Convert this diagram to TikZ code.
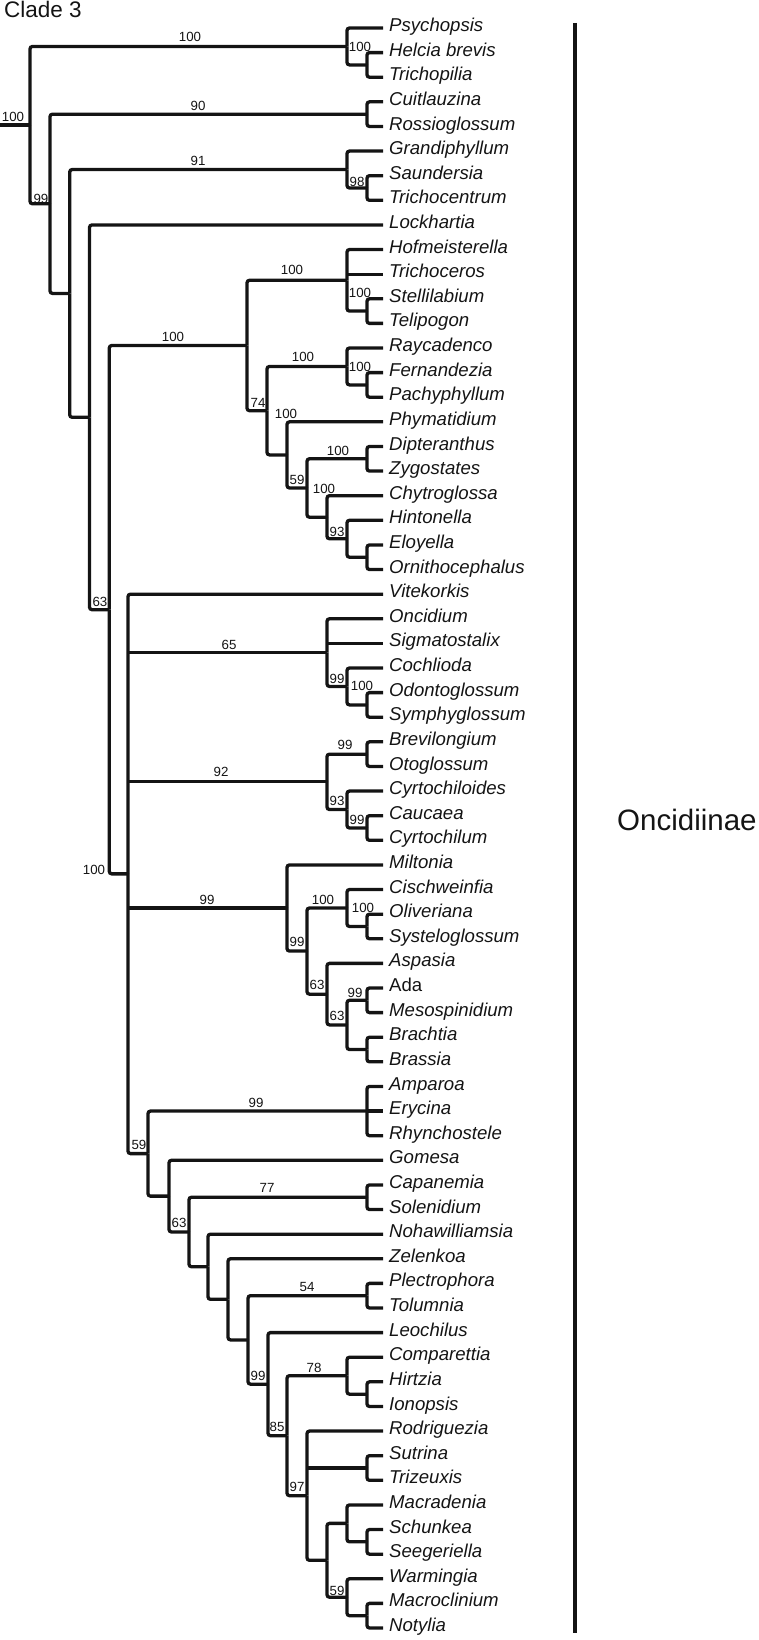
\documentclass[tikz,border=0pt]{standalone}
\usepackage{fontspec}
\setmainfont{Liberation Sans}
\usetikzlibrary{calc}
\definecolor{ink}{HTML}{141414}
\newcommand{\rowy}[1]{3.385+24.615*#1}
\tikzset{
  every node/.style={text=ink},
  branch/.style={line width=3.3pt, rounded corners=2.5pt, draw=ink},
  taxon/.style={anchor=west, inner xsep=6pt, inner ysep=0pt, text height=0.72em, text depth=0pt, font=\fontsize{18.6}{20}\selectfont\itshape},
  support/.style={inner sep=0pt, font=\fontsize{13.3}{14}\selectfont},
  cladelabel/.style={anchor=west, inner sep=0pt},
  bracket/.style={line width=4pt, draw=ink},
}
\begin{document}
\begin{tikzpicture}[x=1pt,y=-1pt]
\useasboundingbox (0,0) rectangle (758,1640);
% taxa
\foreach \tid/\tname [count=\i] in {psy/Psychopsis, hel/Helcia brevis, tri/Trichopilia, cui/Cuitlauzina, ros/Rossioglossum, gra/Grandiphyllum, sau/Saundersia, trc/Trichocentrum, loc/Lockhartia, hof/Hofmeisterella, trs/Trichoceros, ste/Stellilabium, tel/Telipogon, ray/Raycadenco, fer/Fernandezia, pac/Pachyphyllum, phy/Phymatidium, dip/Dipteranthus, zyg/Zygostates, chy/Chytroglossa, hin/Hintonella, elo/Eloyella, orn/Ornithocephalus, vit/Vitekorkis, onc/Oncidium, sig/Sigmatostalix, coc/Cochlioda, odo/Odontoglossum, sym/Symphyglossum, bre/Brevilongium, oto/Otoglossum, cyd/Cyrtochiloides, cau/Caucaea, cyr/Cyrtochilum, mil/Miltonia, cis/Cischweinfia, oli/Oliveriana, sys/Systeloglossum, asp/Aspasia, ada/\textup{Ada}, mes/Mesospinidium, brc/Brachtia, bra/Brassia, amp/Amparoa, ery/Erycina, rhy/Rhynchostele, gom/Gomesa, cap/Capanemia, sol/Solenidium, noh/Nohawilliamsia, zel/Zelenkoa, ple/Plectrophora, tol/Tolumnia, leo/Leochilus, com/Comparettia, hir/Hirtzia, ion/Ionopsis, rod/Rodriguezia, sut/Sutrina, tiz/Trizeuxis, mac/Macradenia, sch/Schunkea, see/Seegeriella, war/Warmingia, mcl/Macroclinium, not/Notylia}
  \node[taxon] (\tid) at (383,{\rowy{\i}}) {\tname};
% internal nodes
\coordinate (stem) at (0,{\rowy{4.9457}});
\coordinate (nRoot) at (30,{\rowy{4.9457}});
\coordinate (nPsy) at (347,{\rowy{1.75}});
\coordinate (nHel) at (367,{\rowy{2.5}});
\coordinate (nB) at (50,{\rowy{8.1414}});
\coordinate (nCui) at (367,{\rowy{4.5}});
\coordinate (nC) at (69.7,{\rowy{11.7828}});
\coordinate (nGra) at (347,{\rowy{6.75}});
\coordinate (nSau) at (367,{\rowy{7.5}});
\coordinate (nD) at (89.5,{\rowy{16.8156}});
\coordinate (nE) at (109.3,{\rowy{24.6312}});
\coordinate (nF) at (247,{\rowy{13.8984}});
\coordinate (nHof) at (347,{\rowy{11.25}});
\coordinate (nSte) at (367,{\rowy{12.5}});
\coordinate (nI) at (267,{\rowy{16.5469}});
\coordinate (nRay) at (347,{\rowy{14.75}});
\coordinate (nFer) at (367,{\rowy{15.5}});
\coordinate (nK) at (287,{\rowy{18.3438}});
\coordinate (nL) at (307,{\rowy{19.6875}});
\coordinate (nDip) at (367,{\rowy{18.5}});
\coordinate (nChy) at (327,{\rowy{20.875}});
\coordinate (nHin) at (347,{\rowy{21.75}});
\coordinate (nElo) at (367,{\rowy{22.5}});
\coordinate (nG) at (128,{\rowy{35.3640}});
\coordinate (nOnc) at (327,{\rowy{26.375}});
\coordinate (nCoc) at (347,{\rowy{27.75}});
\coordinate (nOdo) at (367,{\rowy{28.5}});
\coordinate (nBre) at (327,{\rowy{31.625}});
\coordinate (nBrv) at (367,{\rowy{30.5}});
\coordinate (nCyd) at (347,{\rowy{32.75}});
\coordinate (nCau) at (367,{\rowy{33.5}});
\coordinate (nMil) at (287,{\rowy{36.75}});
\coordinate (nS1) at (307,{\rowy{38.5}});
\coordinate (nCis) at (347,{\rowy{36.75}});
\coordinate (nOli) at (367,{\rowy{37.5}});
\coordinate (nAsp) at (327,{\rowy{40.25}});
\coordinate (nS4) at (347,{\rowy{41.5}});
\coordinate (nAda) at (367,{\rowy{40.5}});
\coordinate (nBrc) at (367,{\rowy{42.5}});
\coordinate (nT) at (148,{\rowy{46.7280}});
\coordinate (nAmp) at (367,{\rowy{45}});
\coordinate (nV) at (169,{\rowy{48.4561}});
\coordinate (nW) at (189,{\rowy{49.9121}});
\coordinate (nCap) at (367,{\rowy{48.5}});
\coordinate (nY) at (208,{\rowy{51.3242}});
\coordinate (nZ) at (228,{\rowy{52.6484}});
\coordinate (nAA) at (248,{\rowy{54.2969}});
\coordinate (nPle) at (367,{\rowy{52.5}});
\coordinate (nAC) at (268,{\rowy{56.0938}});
\coordinate (nAD) at (287,{\rowy{58.1875}});
\coordinate (nCom) at (347,{\rowy{55.75}});
\coordinate (nHir) at (367,{\rowy{56.5}});
\coordinate (nAF) at (307,{\rowy{60.625}});
\coordinate (nSut) at (367,{\rowy{59.5}});
\coordinate (nAH) at (327,{\rowy{63.25}});
\coordinate (nMac) at (347,{\rowy{61.75}});
\coordinate (nSch) at (367,{\rowy{62.5}});
\coordinate (nWar) at (347,{\rowy{64.75}});
\coordinate (nMcl) at (367,{\rowy{65.5}});
% branches
\draw[branch] (stem) -- (nRoot);
\foreach \a/\b in {nRoot/nPsy, nRoot/nB, nPsy/psy.west, nPsy/nHel, nHel/hel.west, nHel/tri.west,
  nB/nCui, nB/nC, nCui/cui.west, nCui/ros.west, nC/nGra, nC/nD, nGra/gra.west, nGra/nSau, nSau/sau.west, nSau/trc.west,
  nD/loc.west, nD/nE, nE/nF, nE/nG, nF/nHof, nF/nI, nHof/hof.west, nHof/nSte, nSte/ste.west, nSte/tel.west,
  nI/nRay, nI/nK, nRay/ray.west, nRay/nFer, nFer/fer.west, nFer/pac.west, nK/phy.west, nK/nL,
  nL/nDip, nL/nChy, nDip/dip.west, nDip/zyg.west, nChy/chy.west, nChy/nHin, nHin/hin.west, nHin/nElo, nElo/elo.west, nElo/orn.west,
  nG/vit.west, nG/nT, nOnc/onc.west, nOnc/nCoc, nCoc/coc.west, nCoc/nOdo, nOdo/odo.west, nOdo/sym.west,
  nBre/nBrv, nBre/nCyd, nBrv/bre.west, nBrv/oto.west, nCyd/cyd.west, nCyd/nCau, nCau/cau.west, nCau/cyr.west,
  nMil/mil.west, nMil/nS1, nS1/nCis, nS1/nAsp, nCis/cis.west, nCis/nOli, nOli/oli.west, nOli/sys.west,
  nAsp/asp.west, nAsp/nS4, nS4/nAda, nS4/nBrc, nAda/ada.west, nAda/mes.west, nBrc/brc.west, nBrc/bra.west,
  nT/nAmp, nT/nV, nAmp/amp.west, nAmp/rhy.west, nV/gom.west, nV/nW, nW/nCap, nW/nY, nCap/cap.west, nCap/sol.west,
  nY/noh.west, nY/nZ, nZ/zel.west, nZ/nAA, nAA/nPle, nAA/nAC, nPle/ple.west, nPle/tol.west,
  nAC/leo.west, nAC/nAD, nAD/nCom, nAD/nAF, nCom/com.west, nCom/nHir, nHir/hir.west, nHir/ion.west,
  nAF/rod.west, nAF/nAH, nSut/sut.west, nSut/tiz.west, nAH/nMac, nAH/nWar, nMac/mac.west, nMac/nSch,
  nSch/sch.west, nSch/see.west, nWar/war.west, nWar/nMcl, nMcl/mcl.west, nMcl/not.west}
  \draw[branch] (\a) |- (\b);
% middle branches of polytomies
\foreach \a/\b in {nHof/trs.west, nG/nOnc, nG/nBre, nG/nMil, nOnc/sig.west, nAmp/ery.west, nAF/nSut}
  \draw[branch] (\a |- \b) -- (\b);
% support values
\node[support] (sRoot) at (13,117) {100};
\node[support] (sPsy) at (190,37) {100};
\node[support] (sHel) at (360,47) {100};
\node[support] (sB) at (41,199) {99};
\node[support] (sCui) at (198,106) {90};
\node[support] (sGra) at (198,161) {91};
\node[support] (sSau) at (357,182) {98};
\node[support] (sE) at (100,602) {63};
\node[support] (sF) at (173,337) {100};
\node[support] (sHof) at (292,270) {100};
\node[support] (sSte) at (360,293) {100};
\node[support] (sI) at (258,403) {74};
\node[support] (sRay) at (303,357) {100};
\node[support] (sFer) at (360,367) {100};
\node[support] (sK) at (286,414) {100};
\node[support] (sL) at (297,480) {59};
\node[support] (sDip) at (338,451) {100};
\node[support] (sChy) at (324,489) {100};
\node[support] (sHin) at (337,532) {93};
\node[support] (sG) at (94,870) {100};
\node[support] (sOnc) at (229,645) {65};
\node[support] (sCoc) at (337,679) {99};
\node[support] (sOdo) at (362,686) {100};
\node[support] (sBre) at (221,772) {92};
\node[support] (sBrv) at (345,745) {99};
\node[support] (sCyd) at (337,801) {93};
\node[support] (sCau) at (357,820) {99};
\node[support] (sMil) at (207,900) {99};
\node[support] (sS1) at (297,942) {99};
\node[support] (sCis) at (323,900) {100};
\node[support] (sOli) at (363,908) {100};
\node[support] (sAsp) at (317,985) {63};
\node[support] (sS4) at (337,1016) {63};
\node[support] (sAda) at (355,993) {99};
\node[support] (sT) at (139,1145) {59};
\node[support] (sAmp) at (256,1103) {99};
\node[support] (sW) at (179,1223) {63};
\node[support] (sCap) at (267,1188) {77};
\node[support] (sPle) at (307,1287) {54};
\node[support] (sAC) at (258,1376) {99};
\node[support] (sAD) at (277,1427) {85};
\node[support] (sCom) at (314,1368) {78};
\node[support] (sAF) at (297,1487) {97};
\node[support] (sWar) at (337,1591) {59};
% clade labels
\node[cladelabel, font=\fontsize{22.5}{24}\selectfont] (clade) at (4,9.5) {Clade 3};
\coordinate (barTop) at (575,23);
\coordinate (barBot) at (575,1633);
\draw[bracket] (barTop) -- (barBot);
\node[cladelabel, font=\fontsize{29.5}{31}\selectfont] (subtribe) at (617,820) {Oncidiinae};
\end{tikzpicture}
\end{document}
